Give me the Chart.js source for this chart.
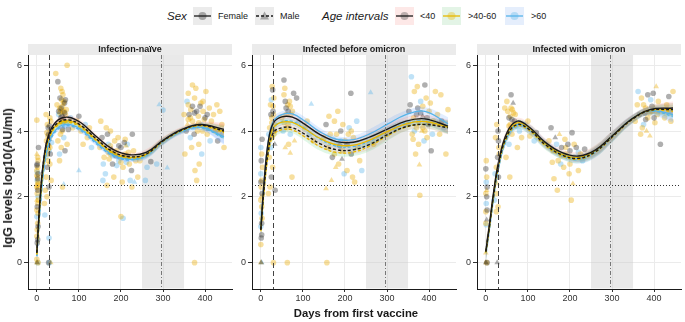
<!DOCTYPE html>
<html>
<head>
<meta charset="utf-8">
<title>IgG levels after first vaccine</title>
<script src="https://cdn.jsdelivr.net/npm/chart.js@4.4.1/dist/chart.umd.min.js"></script>
<style>
  html, body { margin: 0; padding: 0; background: #fff; }
  body { width: 685px; height: 322px; position: relative; overflow: hidden;
         font-family: "Liberation Sans", Arial, Helvetica, sans-serif; color: #1a1a1a; }
  canvas { position: absolute; }
  .lg { position: absolute; top: 7px; font-size: 9px; line-height: 18px; white-space: nowrap; }
  .lg-title { font-style: italic; font-size: 11.5px; }
  .key { position: absolute; top: 7px; width: 19px; height: 18px; }
  .ytitle { position: absolute; left: 8px; top: 178px; transform: translate(-50%, -50%) rotate(-90deg);
            font-weight: bold; font-size: 12.5px; white-space: nowrap; }
  .xtitle { position: absolute; left: 356px; top: 313px; transform: translate(-50%, -50%);
            font-weight: bold; font-size: 11.3px; white-space: nowrap; }
</style>
</head>
<body>

<!-- legend -->
<div class="lg lg-title" style="left:167px">Sex</div>
<svg class="key" style="left:193px" viewBox="0 0 19 18">
  <rect width="19" height="18" fill="#ebebeb"/>
  <circle cx="9.5" cy="9" r="4" fill="rgba(0,0,0,0.3)"/>
  <line x1="1" y1="9" x2="18" y2="9" stroke="#1a1a1a" stroke-width="1.3"/>
</svg>
<div class="lg" style="left:218px">Female</div>
<svg class="key" style="left:255px" viewBox="0 0 19 18">
  <rect width="19" height="18" fill="#ebebeb"/>
  <polygon points="9.5,4.5 14,12.5 5,12.5" fill="rgba(0,0,0,0.3)"/>
  <line x1="1" y1="9" x2="18" y2="9" stroke="#1a1a1a" stroke-width="1.3" stroke-dasharray="3,2"/>
</svg>
<div class="lg" style="left:280px">Male</div>

<div class="lg lg-title" style="left:322px">Age intervals</div>
<svg class="key" style="left:395px" viewBox="0 0 19 18">
  <rect width="19" height="18" fill="#fde8e7"/>
  <circle cx="9.5" cy="9" r="4" fill="rgba(40,40,40,0.3)"/>
  <line x1="1" y1="9" x2="18" y2="9" stroke="#1a1a1a" stroke-width="1.3"/>
</svg>
<div class="lg" style="left:420px">&lt;40</div>
<svg class="key" style="left:442px" viewBox="0 0 19 18">
  <rect width="19" height="18" fill="#e3f4e6"/>
  <circle cx="9.5" cy="9" r="4" fill="rgba(231,184,0,0.35)"/>
  <line x1="1" y1="9" x2="18" y2="9" stroke="#E7B800" stroke-width="1.3"/>
</svg>
<div class="lg" style="left:468px">&gt;40-60</div>
<svg class="key" style="left:505px" viewBox="0 0 19 18">
  <rect width="19" height="18" fill="#e5eefc"/>
  <circle cx="9.5" cy="9" r="4" fill="rgba(86,180,233,0.35)"/>
  <line x1="1" y1="9" x2="18" y2="9" stroke="#56B4E9" stroke-width="1.3"/>
</svg>
<div class="lg" style="left:531px">&gt;60</div>

<canvas id="pNaive"   width="232" height="261" style="left:4px;top:44px"></canvas>
<canvas id="pBefore"  width="232" height="261" style="left:228px;top:44px"></canvas>
<canvas id="pOmicron" width="232" height="261" style="left:453px;top:44px"></canvas>

<div class="ytitle">IgG levels log10(AU/ml)</div>
<div class="xtitle">Days from first vaccine</div>

<script>
// ── Data ──────────────────────────────────────────────────────────────────
const PANELS     = ['Infection-naïve', 'Infected before omicron', 'Infected with omicron'];
const AGE_GROUPS = ['<40', '>40-60', '>60'];
const SEXES      = ['Female', 'Male'];
const X_TICKS    = [0, 100, 200, 300, 400];
const Y_TICKS    = [0, 2, 4, 6];

const SECOND_DOSE_DAY = 30;
const BOOSTER_DAY     = 295;
const OMICRON_WINDOW  = [250, 350];
const THRESHOLD       = 2.35;

// smoothed fits, rows: <40 F, <40 M, >40-60 F, >40-60 M, >60 F, >60 M
const FIT_DAYS = [0, 8, 18, 30, 50, 75, 105, 140, 180, 220, 260, 300, 345, 390, 445];
const FIT_NAIVE = [
  [0.30, 2.00, 3.30, 3.95, 4.33, 4.42, 4.25, 3.85, 3.45, 3.28, 3.35, 3.72, 4.05, 4.20, 4.05],
  [0.30, 1.95, 3.25, 3.88, 4.25, 4.34, 4.17, 3.78, 3.38, 3.22, 3.30, 3.70, 4.03, 4.18, 4.00],
  [0.25, 1.90, 3.20, 3.85, 4.22, 4.31, 4.15, 3.76, 3.36, 3.20, 3.30, 3.70, 4.03, 4.18, 3.98],
  [0.25, 1.85, 3.15, 3.80, 4.18, 4.27, 4.10, 3.72, 3.33, 3.18, 3.28, 3.69, 4.02, 4.16, 3.95],
  [0.20, 1.70, 3.00, 3.70, 4.10, 4.20, 4.05, 3.67, 3.28, 3.14, 3.26, 3.68, 4.00, 4.12, 3.82],
  [0.20, 1.65, 2.95, 3.65, 4.05, 4.16, 4.01, 3.63, 3.25, 3.12, 3.25, 3.67, 3.99, 4.10, 3.78]
];
const FIT_BEFORE = [
  [1.00, 2.50, 3.70, 4.25, 4.43, 4.42, 4.20, 3.90, 3.68, 3.66, 3.82, 4.05, 4.30, 4.37, 4.15],
  [1.00, 2.30, 3.40, 3.95, 4.10, 4.10, 3.90, 3.62, 3.43, 3.43, 3.60, 3.88, 4.13, 4.20, 4.10],
  [1.00, 2.40, 3.55, 4.10, 4.27, 4.26, 4.06, 3.78, 3.58, 3.57, 3.73, 3.98, 4.22, 4.29, 4.12],
  [0.95, 2.20, 3.30, 3.88, 4.04, 4.03, 3.82, 3.53, 3.35, 3.36, 3.55, 3.85, 4.12, 4.20, 4.12],
  [1.10, 2.50, 3.70, 4.30, 4.50, 4.52, 4.30, 3.98, 3.75, 3.74, 3.92, 4.20, 4.50, 4.60, 4.22],
  [1.05, 2.35, 3.50, 4.10, 4.28, 4.29, 4.08, 3.76, 3.54, 3.53, 3.70, 3.98, 4.24, 4.30, 4.12]
];
const FIT_OMICRON = [
  [0.35, 1.10, 2.10, 3.05, 3.95, 4.30, 4.10, 3.67, 3.35, 3.24, 3.42, 3.85, 4.35, 4.65, 4.70],
  [0.33, 1.05, 2.00, 2.95, 3.85, 4.20, 4.03, 3.60, 3.28, 3.17, 3.37, 3.82, 4.33, 4.63, 4.65],
  [0.33, 1.05, 2.05, 3.00, 3.90, 4.25, 4.07, 3.63, 3.30, 3.20, 3.40, 3.84, 4.34, 4.64, 4.65],
  [0.30, 1.00, 1.95, 2.90, 3.80, 4.16, 4.00, 3.57, 3.25, 3.14, 3.35, 3.80, 4.32, 4.62, 4.60],
  [0.33, 1.00, 1.95, 2.90, 3.80, 4.20, 4.07, 3.65, 3.30, 3.18, 3.38, 3.84, 4.35, 4.62, 4.50],
  [0.30, 0.95, 1.90, 2.85, 3.75, 4.15, 4.00, 3.60, 3.25, 3.13, 3.34, 3.80, 4.32, 4.60, 4.45]
];
// half-width of the confidence ribbons at FIT_DAYS
const CI_NAIVE   = [0.30, 0.20, 0.12, 0.08, 0.06, 0.06, 0.07, 0.07, 0.06, 0.06, 0.10, 0.10, 0.08, 0.08, 0.20];
const CI_BEFORE  = [0.35, 0.25, 0.15, 0.12, 0.10, 0.10, 0.12, 0.12, 0.10, 0.12, 0.15, 0.15, 0.12, 0.12, 0.20];
const CI_OMICRON = [0.30, 0.20, 0.15, 0.12, 0.10, 0.10, 0.12, 0.12, 0.10, 0.12, 0.15, 0.15, 0.12, 0.12, 0.20];

// observations: [day, log10 IgG, age group index, sex index]
const PTS_NAIVE = [
  [0,0,1,1],[1,0,0,1],[2,0,2,0],[3,0,1,0],[0,0.1,1,0],[1,0.6,0,0],[2,0.7,0,0],[0,0.8,1,0],[1,1.0,1,0],[2,1.2,1,0],
  [0,1.4,2,0],[3,1.5,1,0],[1,1.7,0,0],[2,1.8,1,0],[0,1.9,1,1],[3,2.0,2,0],[1,2.1,1,0],[2,2.2,0,0],[0,2.3,1,0],[4,2.4,1,0],
  [1,2.5,2,0],[2,2.6,1,0],[3,2.7,0,0],[0,2.8,1,0],[2,2.9,1,0],[1,3.0,0,0],[3,3.1,1,0],[0,3.3,1,1],[4,3.5,0,0],[2,2.45,1,0],
  [0,1.6,1,0],[3,1.1,0,0],[0,4.33,1,0],[19,1.45,2,0],[28,0,0,0],[30,0,2,0],[33,0,1,1],[29,0.75,2,0],[20,2.2,1,0],[22,2.6,1,0],
  [25,2.9,0,0],[27,3.1,1,0],[24,3.3,1,0],[29,3.4,2,0],[31,3.5,1,0],[26,3.6,0,0],[23,3.7,1,0],[30,3.8,1,0],[28,3.9,0,0],[32,4.0,1,0],
  [27,4.1,0,0],[25,4.2,1,0],[33,4.3,1,0],[29,3.75,0,1],[21,3.2,2,0],[31,3.0,1,0],[34,2.5,1,0],[24,2.0,1,0],[18,1.8,1,0],[22,4.5,1,0],
  [35,3.65,2,0],[29,2.3,0,0],[45,5.75,1,0],[50,5.5,0,0],[72,6.0,1,0],[60,5.2,1,0],[55,5.0,0,0],[65,4.9,1,0],[48,4.8,1,0],[58,4.7,0,0],
  [62,4.6,1,0],[52,4.5,2,0],[68,4.5,1,0],[57,4.4,0,0],[63,4.3,1,0],[70,4.25,1,1],[53,4.2,1,0],[66,4.15,2,0],[60,4.0,1,0],[75,4.05,0,0],
  [56,3.9,1,0],[64,3.8,2,0],[50,3.7,1,0],[72,3.6,1,0],[58,3.5,1,0],[67,3.4,0,0],[54,3.3,2,0],[61,4.75,1,0],[59,4.95,1,0],[66,4.85,0,0],
  [62,5.1,1,0],[70,4.65,1,0],[55,4.55,1,0],[64,4.4,0,1],[78,4.3,1,0],[80,4.4,2,0],[85,4.1,1,0],[52,4.6,0,0],[54,3.1,1,0],[64,2.38,2,1],
  [61,2.3,1,0],[100,2.8,2,1],[95,4.3,1,0],[105,4.0,1,0],[110,3.6,1,0],[115,4.2,2,0],[100,4.45,0,0],[120,3.8,1,0],[125,4.1,1,0],[130,3.5,2,0],
  [150,3.5,1,0],[155,3.8,0,0],[160,3.2,1,0],[165,4.1,1,0],[170,3.6,2,0],[175,3.3,1,0],[180,3.0,0,0],[185,3.7,1,0],[190,3.4,1,0],[195,3.1,2,0],
  [200,3.5,0,0],[205,2.9,1,0],[210,3.3,1,0],[215,3.6,2,0],[220,3.0,1,0],[225,2.8,0,0],[230,3.4,1,0],[158,3.0,2,0],[163,2.7,2,0],[168,3.9,0,0],
  [172,3.15,1,0],[178,3.45,0,1],[183,2.6,1,0],[188,3.25,0,0],[193,3.8,1,0],[198,3.2,1,0],[203,2.45,1,0],[208,3.65,0,0],[213,3.05,2,0],[218,3.35,1,0],
  [222,2.5,2,0],[227,3.9,0,0],[235,3.1,1,0],[152,4.3,1,0],[157,2.5,2,0],[167,2.35,1,0],[200,1.4,1,0],[205,1.35,2,0],[232,2.45,2,1],[226,2.3,1,0],
  [212,3.55,1,1],[175,4.0,1,0],[240,2.6,1,0],[245,3.1,1,0],[258,2.5,2,0],[262,2.9,2,0],[271,3.07,0,0],[285,3.0,2,0],[291,4.8,2,1],[300,4.64,2,0],
  [310,2.88,2,1],[350,4.5,1,0],[355,4.0,0,0],[360,4.8,1,0],[365,3.8,2,0],[370,4.3,1,0],[375,5.0,1,0],[380,4.6,0,0],[385,3.6,1,0],[390,4.2,2,0],
  [395,4.9,1,0],[400,4.4,0,0],[405,3.9,1,0],[410,4.7,1,0],[358,4.2,1,1],[362,4.5,0,0],[368,3.5,1,0],[372,4.1,2,0],[378,5.3,1,0],[382,4.0,1,0],
  [388,4.75,0,0],[392,3.3,2,0],[398,4.35,1,0],[402,5.2,1,0],[408,4.05,0,1],[352,3.3,1,0],[357,4.9,2,0],[366,4.65,1,0],[374,3.9,0,0],[384,4.45,1,0],
  [394,4.0,1,0],[376,2.8,1,0],[380,2.5,1,0],[386,3.0,1,0],[375,0,1,0],[415,4.3,1,0],[412,3.7,2,0],[360,5.15,1,0],[370,5.4,1,0],[420,4.5,1,0],
  [425,4.0,1,0],[430,3.7,0,0],[435,4.6,1,0],[440,4.2,1,0],[445,3.5,1,0],[428,4.8,1,0],[438,3.9,2,1],
  [1,2.35,1,0],[2,2.55,0,0],[0,2.65,1,0],[3,2.25,1,0],[1,2.75,2,0],[2,3.2,1,0],[0,2.95,0,0],[4,1.9,1,0],
  [26,3.85,1,0],[28,3.55,1,0],[30,4.15,0,0],[24,3.95,1,0],[32,3.3,0,0],[27,3.45,1,0],[31,4.4,1,0],
  [56,4.65,1,0],[60,4.45,0,0],[63,4.85,1,0],[58,4.3,1,0],[66,4.55,0,0],[62,4.25,2,0],[54,4.7,1,0],[68,4.95,0,0],[59,4.55,1,1],[65,4.6,1,0],
  [57,5.3,1,0],[61,4.05,0,0],[185,3.35,1,0],[195,3.55,0,0],[205,3.25,1,0],[175,3.55,1,0],[190,2.95,2,0],[210,3.75,1,0],[200,3.05,1,0],[180,3.25,2,0],
  [215,3.2,0,0],[170,3.35,1,0],[365,4.4,1,0],[375,4.55,0,0],[385,4.25,1,0],[395,4.6,1,0],[370,4.75,0,0],[380,4.15,1,0],[390,4.85,1,0],[400,4.1,2,0],
  [360,4.35,1,0],[405,4.5,0,0]
];
const PTS_BEFORE = [
  [0,0,1,1],[1,0,0,1],[2,0,2,1],[0,0.55,1,0],[1,0.75,0,0],[2,0.85,0,0],[0,1.1,2,0],[3,1.35,1,0],[1,1.5,2,0],[2,1.7,1,0],
  [0,1.9,1,0],[3,2.1,0,0],[1,2.3,1,0],[2,2.5,1,0],[0,2.7,2,0],[4,2.9,1,0],[1,3.1,0,0],[2,3.3,1,0],[0,3.5,2,0],[3,3.75,0,0],
  [1,2.0,1,1],[2,1.2,0,0],[0,2.45,0,0],[30,0,1,0],[18,2.1,1,0],[22,2.3,1,0],[25,2.6,0,0],[28,2.9,1,0],[20,3.2,1,0],[24,3.5,2,0],
  [27,3.8,1,0],[30,4.0,0,0],[32,4.2,1,0],[26,4.4,1,0],[29,4.6,0,0],[23,4.8,1,0],[31,5.0,1,0],[28,5.25,0,0],[33,3.6,0,1],[21,4.1,1,0],
  [34,2.2,0,0],[19,3.9,2,0],[30,4.5,1,0],[25,4.95,2,0],[27,5.35,1,0],[63,0,1,0],[50,4.4,1,0],[55,5.1,1,0],[60,4.7,0,0],[55,5.55,0,0],
  [65,4.2,1,0],[68,4.9,1,0],[70,3.9,2,0],[72,4.5,1,0],[58,3.5,1,1],[66,3.6,1,0],[75,4.6,1,0],[78,5.15,0,0],[80,3.7,1,1],[57,5.3,1,0],
  [53,4.0,2,0],[64,4.8,1,0],[85,5.0,0,0],[74,2.6,1,0],[70,3.33,1,1],[90,4.3,2,0],[105,4.1,1,0],[115,3.9,2,0],[120,4.82,2,1],[110,4.3,1,0],
  [125,3.7,1,0],[157,0,1,0],[155,2.25,1,1],[168,2.5,1,1],[223,2.45,1,0],[150,3.8,1,0],[155,4.2,0,0],[160,3.5,1,0],[165,3.9,1,0],[170,3.2,0,0],
  [175,4.3,1,0],[180,3.6,2,0],[185,3.0,1,0],[190,4.0,0,0],[195,3.4,1,0],[200,3.7,1,0],[205,2.8,1,0],[210,4.1,2,0],[215,3.3,0,0],[220,3.8,1,0],
  [214,5.15,0,0],[230,3.5,1,0],[162,4.45,1,0],[172,3.75,2,0],[178,2.9,1,1],[188,3.55,0,0],[198,2.7,2,0],[208,3.9,1,0],[218,2.6,1,0],[228,4.3,2,0],
  [235,3.1,1,0],[240,2.8,2,0],[183,4.6,1,0],[193,3.15,0,1],[261,5.17,2,1],[268,3.6,1,0],[300,3.9,1,0],[320,4.1,2,0],[378,2.05,1,0],[377,2.97,1,1],
  [350,4.2,1,0],[355,4.8,0,0],[360,3.9,1,0],[365,5.2,1,0],[370,4.5,0,0],[375,3.6,1,0],[380,4.9,2,0],[385,4.1,1,0],[390,5.4,0,0],[395,3.8,1,0],
  [400,4.6,1,0],[405,3.4,0,0],[410,4.3,1,0],[358,5.65,2,0],[363,4.4,1,0],[368,3.3,1,0],[373,4.7,0,0],[383,4.0,1,1],[388,3.7,2,0],[393,5.0,1,0],
  [398,4.2,0,0],[403,4.85,1,0],[408,3.9,2,0],[352,4.6,0,0],[362,3.75,1,0],[372,5.35,1,0],[385,4.45,0,1],[415,5.2,1,0],[420,4.5,1,0],[425,3.9,1,0],
  [430,4.3,0,0],[440,3.3,1,0],[445,4.65,1,0],[435,4.1,2,0],[428,5.1,1,0],
  [26,4.25,1,0],[29,4.75,1,0],[24,4.5,0,0],[31,3.9,1,0],[28,4.05,1,0],[60,4.5,1,0],[65,4.6,0,0],[55,4.25,1,0],[70,4.75,1,0],[62,4.1,1,0],
  [58,4.9,0,0],[180,3.9,1,0],[195,4.2,1,0],[205,3.6,0,0],[175,3.3,1,0],[215,4.0,1,0],[190,3.7,2,0],[375,4.3,1,0],[380,4.55,0,0],[390,4.0,1,0],
  [370,4.1,1,0],[395,4.4,0,0],[385,4.75,1,0],[365,4.0,2,0]
];
const PTS_OMICRON = [
  [0,0,0,1],[1,0,1,1],[2,0,1,0],[3,0,0,0],[0,0.3,1,1],[1,1.15,2,0],[2,1.3,0,1],[0,1.55,1,0],[3,1.6,0,0],[1,1.8,2,0],
  [2,2.0,0,0],[0,2.1,1,0],[3,2.3,0,0],[1,2.45,2,0],[2,2.6,1,0],[0,2.85,0,0],[1,3.1,1,0],[2,2.2,1,1],[0,1.2,1,0],[27,0,0,1],
  [25,1.55,1,0],[29,1.7,1,0],[24,2.1,1,0],[27,2.4,1,1],[30,2.6,0,0],[25,2.9,1,0],[28,3.2,0,0],[31,3.5,1,0],[23,3.8,1,0],[29,4.0,0,0],
  [26,4.2,1,0],[32,3.3,1,0],[22,2.7,2,0],[30,3.7,0,0],[20,1.9,2,0],[45,4.7,1,0],[50,4.9,1,0],[55,4.4,0,0],[60,5.1,0,0],[65,4.85,0,1],
  [70,4.5,1,0],[58,4.2,1,0],[62,3.9,1,0],[52,4.6,1,0],[68,4.3,0,0],[75,3.5,1,0],[80,4.0,2,0],[48,3.2,1,0],[57,2.6,1,0],[72,4.15,2,0],
  [85,3.8,1,0],[90,4.2,2,0],[55,3.6,2,0],[63,4.65,1,0],[100,4.3,1,0],[105,3.85,1,0],[115,3.7,2,0],[120,3.95,0,0],[150,3.7,1,0],[155,4.1,0,0],
  [160,3.4,1,0],[162,2.55,1,0],[165,3.8,0,1],[170,2.2,1,0],[172,3.1,1,0],[175,3.9,1,1],[180,3.5,0,0],[185,2.9,1,0],[190,3.3,1,0],[195,3.6,0,0],
  [200,3.0,1,0],[203,1.9,1,0],[205,3.95,0,0],[207,2.4,1,1],[210,3.2,2,0],[215,3.5,0,0],[220,2.8,1,0],[225,3.3,1,0],[230,3.1,2,0],[178,3.0,2,0],
  [188,3.75,1,0],[198,2.7,1,0],[168,3.6,2,0],[158,3.05,1,0],[235,3.45,0,0],[355,4.3,1,0],[360,4.8,1,0],[365,4.5,0,0],[370,5.0,1,0],[375,4.2,2,0],
  [380,4.7,1,0],[385,5.1,0,0],[390,3.85,1,1],[395,4.6,1,0],[400,4.4,0,0],[405,5.35,1,1],[410,4.9,1,0],[415,3.6,0,0],[362,5.2,2,0],[372,4.1,1,0],
  [382,4.0,1,1],[392,4.95,2,0],[402,4.25,1,0],[378,4.55,0,0],[368,3.9,1,0],[398,5.15,0,0],[408,4.5,1,0],[425,4.4,1,0],[430,4.8,1,0],[435,5.05,0,0],
  [440,4.3,1,0],[445,5.2,1,0],[438,4.6,2,0],
  [58,4.45,1,0],[62,4.35,0,0],[66,4.55,1,0],[60,4.7,1,0],[55,4.15,1,0],[190,3.5,1,0],[200,3.4,0,0],[210,3.6,1,0],[180,3.25,1,0],[220,3.35,2,0],
  [375,4.8,1,0],[385,4.4,1,0],[395,4.75,0,0],[380,4.35,0,0],[390,4.55,1,0],[400,4.65,1,0]
];

// ── Styles ────────────────────────────────────────────────────────────────
const LINE_COLORS  = ['#1a1a1a', '#E7B800', '#56B4E9'];
const POINT_COLORS = ['rgba(45,45,45,0.38)', 'rgba(235,172,0,0.38)', 'rgba(86,180,233,0.38)'];
const BAND_COLORS  = ['rgba(248,118,109,0.16)', 'rgba(0,186,56,0.12)', 'rgba(97,156,255,0.18)'];
const FONT = '"Liberation Sans", Arial, Helvetica, sans-serif';

Chart.defaults.font.family = FONT;

// strip, shaded window and reference lines for one facet
const panelDecor = {
  id: 'panelDecor',
  beforeDraw(chart, args, opts) {
    const { ctx, chartArea: ca } = chart;
    ctx.save();
    ctx.fillStyle = '#ebebeb';
    ctx.fillRect(ca.left, 0, ca.right - ca.left, ca.top);
    ctx.fillStyle = '#1a1a1a';
    ctx.font = 'bold 9px ' + FONT;
    ctx.textAlign = 'center';
    ctx.textBaseline = 'middle';
    ctx.fillText(opts.title, (ca.left + ca.right) / 2, ca.top / 2 + 0.5);
    ctx.restore();
  },
  beforeDatasetsDraw(chart) {
    const { ctx, chartArea: ca, scales: { x } } = chart;
    const x0 = x.getPixelForValue(OMICRON_WINDOW[0]);
    const x1 = x.getPixelForValue(OMICRON_WINDOW[1]);
    ctx.save();
    ctx.fillStyle = 'rgba(200,200,200,0.4)';
    ctx.fillRect(x0, ca.top, x1 - x0, ca.bottom - ca.top - 0.5);
    ctx.restore();
  },
  afterDatasetsDraw(chart) {
    const { ctx, chartArea: ca, scales: { x, y } } = chart;
    const vline = (day, color, dash) => {
      const px = Math.round(x.getPixelForValue(day)) + 0.5;
      ctx.strokeStyle = color;
      ctx.setLineDash(dash);
      ctx.beginPath();
      ctx.moveTo(px, ca.top);
      ctx.lineTo(px, ca.bottom);
      ctx.stroke();
    };
    ctx.save();
    ctx.lineWidth = 1;
    vline(SECOND_DOSE_DAY, '#444', [5, 3]);
    vline(BOOSTER_DAY, '#777', [4, 2, 1, 2]);
    const py = Math.round(y.getPixelForValue(THRESHOLD)) + 0.5;
    ctx.strokeStyle = '#333';
    ctx.setLineDash([1, 2]);
    ctx.beginPath();
    ctx.moveTo(ca.left, py);
    ctx.lineTo(ca.right, py);
    ctx.stroke();
    ctx.restore();
  }
};

function buildPanel(canvasId, title, pts, fits, ci) {
  const datasets = [];

  // observations: one dataset per age group and sex
  AGE_GROUPS.forEach((age, a) => {
    SEXES.forEach((sex, s) => {
      datasets.push({
        type: 'scatter',
        label: sex + ' ' + age,
        data: pts.filter(p => p[2] === a && p[3] === s).map(p => ({ x: p[0], y: p[1] })),
        pointStyle: s ? 'triangle' : 'circle',
        pointRadius: s ? 3.3 : 2.8,
        backgroundColor: POINT_COLORS[a],
        borderColor: POINT_COLORS[a],
        borderWidth: 0,
        order: 3
      });
    });
  });

  // confidence ribbons
  fits.forEach((fit, k) => {
    const a = Math.floor(k / 2);
    datasets.push({
      type: 'line',
      data: FIT_DAYS.map((d, i) => ({ x: d, y: fit[i] + ci[i] })),
      borderWidth: 0, pointRadius: 0, tension: 0.4, fill: false, order: 2
    });
    datasets.push({
      type: 'line',
      data: FIT_DAYS.map((d, i) => ({ x: d, y: fit[i] - ci[i] })),
      borderWidth: 0, pointRadius: 0, tension: 0.4, fill: '-1',
      backgroundColor: BAND_COLORS[a], order: 2
    });
  });

  // fitted curves
  fits.forEach((fit, k) => {
    const a = Math.floor(k / 2), s = k % 2;
    datasets.push({
      type: 'line',
      data: FIT_DAYS.map((d, i) => ({ x: d, y: fit[i] })),
      borderColor: LINE_COLORS[a],
      borderWidth: a === 0 ? 1.4 : 1.3,
      borderDash: s ? [3, 2] : [],
      pointRadius: 0, tension: 0.4, fill: false, order: 1
    });
  });

  return new Chart(document.getElementById(canvasId), {
    type: 'scatter',
    data: { datasets },
    plugins: [panelDecor],
    options: {
      responsive: false,
      animation: false,
      devicePixelRatio: 1,
      layout: { padding: { top: 11, left: 0, right: 0, bottom: 0 } },
      plugins: {
        legend: { display: false },
        tooltip: { enabled: false },
        panelDecor: { title }
      },
      scales: {
        x: {
          type: 'linear', min: -21, max: 464,
          afterBuildTicks: s => { s.ticks = X_TICKS.map(v => ({ value: v })); },
          afterFit: s => { s.height = 16; },
          grid: { color: '#ebebeb', tickColor: '#333', tickLength: 3 },
          border: { color: '#1a1a1a', width: 1 },
          ticks: { color: '#333', font: { size: 9 }, padding: 1, maxRotation: 0 }
        },
        y: {
          type: 'linear', min: -0.8, max: 6.31,
          afterBuildTicks: s => { s.ticks = Y_TICKS.map(v => ({ value: v })); },
          afterFit: s => { s.width = 24; },
          grid: { color: '#ebebeb', tickColor: '#333', tickLength: 4 },
          border: { color: '#1a1a1a', width: 1 },
          ticks: { color: '#333', font: { size: 9 }, padding: 2 }
        }
      }
    }
  });
}

buildPanel('pNaive',   PANELS[0], PTS_NAIVE,   FIT_NAIVE,   CI_NAIVE);
buildPanel('pBefore',  PANELS[1], PTS_BEFORE,  FIT_BEFORE,  CI_BEFORE);
buildPanel('pOmicron', PANELS[2], PTS_OMICRON, FIT_OMICRON, CI_OMICRON);
</script>
</body>
</html>
